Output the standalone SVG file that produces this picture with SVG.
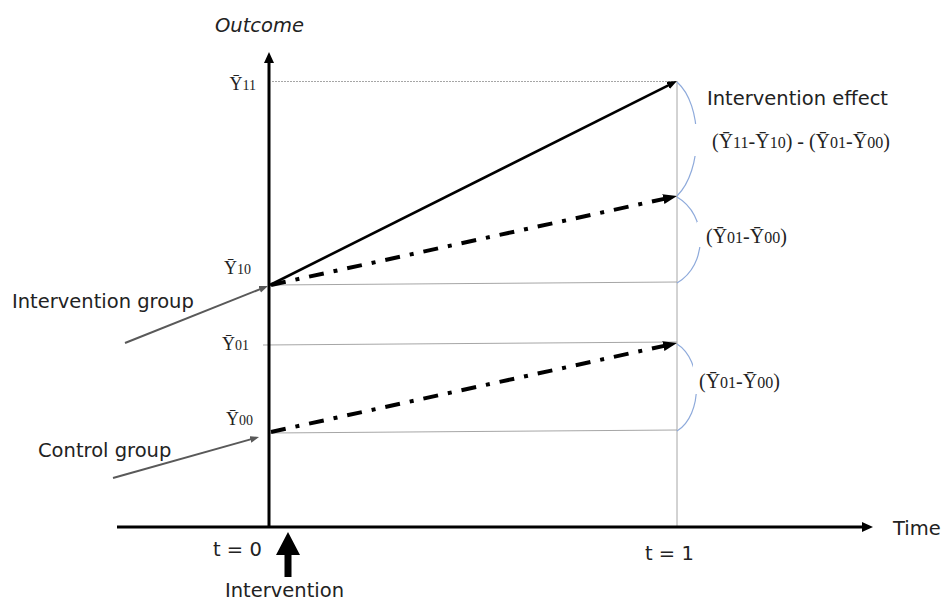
<svg xmlns="http://www.w3.org/2000/svg" width="949" height="603" viewBox="0 0 949 603">
<style>
.sans{font-family:"DejaVu Sans","Liberation Sans",sans-serif;font-size:19.5px;fill:#222}
.ser{font-family:"Liberation Serif","DejaVu Serif",serif;fill:#222}
.guide{stroke:#a6a6a6;stroke-width:1;fill:none}
.axis{stroke:#000;stroke-width:3;fill:none}
.brace{stroke:#8eaadb;stroke-width:1.2;fill:none}
.dd{stroke:#000;stroke-width:4;fill:none;stroke-dasharray:15 10 4 10}
.grp{stroke:#595959;stroke-width:2;fill:none}
</style>
<defs>
<marker id="axHead" markerUnits="userSpaceOnUse" markerWidth="12" markerHeight="11" refX="2" refY="5" orient="auto"><path d="M0,0 L11,5 L0,10 z" fill="#000"/></marker>
<marker id="solHead" markerUnits="userSpaceOnUse" markerWidth="11" markerHeight="9" refX="2" refY="4" orient="auto"><path d="M0,0 L10,4 L0,8 z" fill="#000"/></marker>
<marker id="ddHead" markerUnits="userSpaceOnUse" markerWidth="15" markerHeight="11" refX="2" refY="5" orient="auto"><path d="M0,0 L14,5 L0,10 z" fill="#000"/></marker>
<marker id="grpHead" markerUnits="userSpaceOnUse" markerWidth="10" markerHeight="8" refX="2" refY="3.5" orient="auto"><path d="M0,0 L9,3.5 L0,7 z" fill="#595959"/></marker>
</defs>
<rect width="949" height="603" fill="#fff"/>

<g id="guides">
<line class="guide" x1="272" y1="81.5" x2="677" y2="81.5" stroke-dasharray="2 1"/>
<line class="guide" x1="677" y1="81" x2="677" y2="527"/>
<line class="guide" x1="270" y1="285" x2="677" y2="282"/>
<line class="guide" x1="263" y1="345" x2="677" y2="342"/>
<line class="guide" x1="270" y1="433" x2="677" y2="430"/>
</g>

<g id="braces">
<path class="brace" d="M677,82 C703,105 703,170 677,196"/>
<path class="brace" d="M677,197 C708,215 708,265 677,283"/>
<path class="brace" d="M677,344 C703,360 703,415 677,431"/>
<rect x="694" y="124" width="200" height="32" fill="#fff"/>
<rect x="697" y="222" width="90" height="25" fill="#fff"/>
<rect x="693" y="362" width="90" height="32" fill="#fff"/>
</g>

<g id="axes">
<line class="axis" x1="269" y1="527" x2="269" y2="61" marker-end="url(#axHead)"/>
<line class="axis" x1="117" y1="527" x2="864" y2="527" marker-end="url(#axHead)"/>
</g>

<g id="connectors">
<line x1="270" y1="285" x2="669.8" y2="84.6" stroke="#000" stroke-width="2.6" marker-end="url(#solHead)"/>
<line class="dd" x1="271" y1="285" x2="665.3" y2="198.6" marker-end="url(#ddHead)"/>
<line class="dd" x1="271" y1="432" x2="665.3" y2="345.6" marker-end="url(#ddHead)"/>
<line class="grp" x1="125" y1="343" x2="261.5" y2="288.6" marker-end="url(#grpHead)"/>
<line class="grp" x1="113" y1="478" x2="252.3" y2="438.9" marker-end="url(#grpHead)"/>
</g>

<g id="intervention-arrow">
<path d="M284.5,577 L284.5,555 L276,555 L288,532 L300,555 L291.5,555 L291.5,577 Z" fill="#000"/>
</g>

<g id="label-outcome"><text class="sans" x="215" y="32" font-size="21" font-style="italic">Outcome</text></g>
<g id="label-time"><text class="sans" x="893" y="535" font-size="20">Time</text></g>
<g id="label-t0"><text class="sans" x="213" y="556" font-size="20">t = 0</text></g>
<g id="label-t1"><text class="sans" x="645" y="560" font-size="20">t = 1</text></g>
<g id="label-intervention"><text class="sans" x="225" y="597" font-size="19">Intervention</text></g>
<g id="label-intervention-group"><text class="sans" x="12" y="308">Intervention group</text></g>
<g id="label-control-group"><text class="sans" x="38" y="457">Control group</text></g>
<g id="label-effect"><text class="sans" x="707" y="105">Intervention effect</text></g>

<g id="y11"><text class="ser" x="256" y="90" text-anchor="end" font-size="18">Ȳ<tspan font-size="14">11</tspan></text></g>
<g id="y10"><text class="ser" x="251" y="274" text-anchor="end" font-size="18">Ȳ<tspan font-size="14">10</tspan></text></g>
<g id="y01"><text class="ser" x="249" y="350" text-anchor="end" font-size="18">Ȳ<tspan font-size="14">01</tspan></text></g>
<g id="y00"><text class="ser" x="253" y="425" text-anchor="end" font-size="18">Ȳ<tspan font-size="14">00</tspan></text></g>

<g id="formula-effect"><text class="ser" x="712" y="148" font-size="20">(Ȳ<tspan font-size="16">11</tspan>-Ȳ<tspan font-size="16">10</tspan>) - (Ȳ<tspan font-size="16">01</tspan>-Ȳ<tspan font-size="16">00</tspan>)</text></g>
<g id="formula-trend1"><text class="ser" x="706" y="243" font-size="20">(Ȳ<tspan font-size="16">01</tspan>-Ȳ<tspan font-size="16">00</tspan>)</text></g>
<g id="formula-trend2"><text class="ser" x="699" y="388" font-size="20">(Ȳ<tspan font-size="16">01</tspan>-Ȳ<tspan font-size="16">00</tspan>)</text></g>
</svg>
